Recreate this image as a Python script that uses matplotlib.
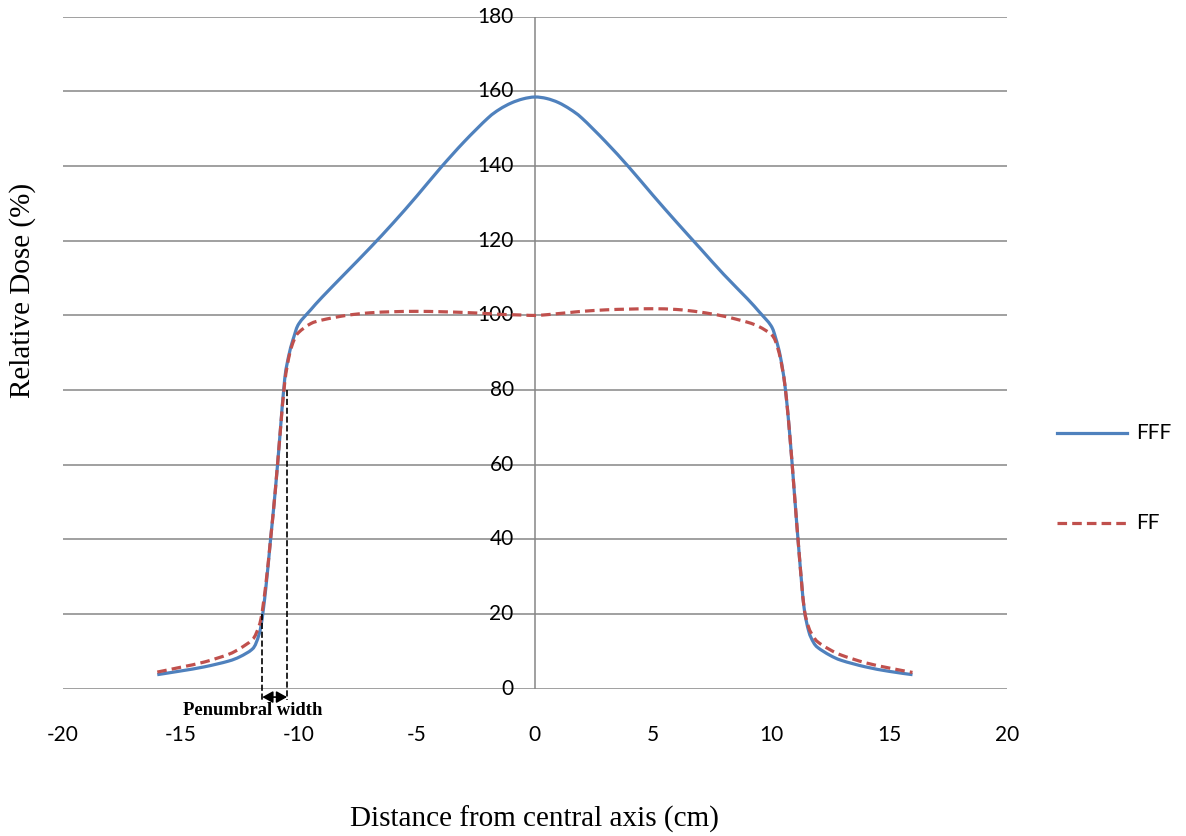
import numpy as np
import matplotlib.pyplot as plt
from matplotlib.lines import Line2D
from matplotlib.path import Path
from matplotlib.patches import PathPatch

# data
x = [-16, -15, -14, -13, -12.5, -12, -11.8, -11.6, -11.4, -11.2, -11, -10.8, -10.6,
     -10.4, -10.2, -10, -9.5, -9, -8, -7, -6, -5, -4, -3, -2, -1.5, -1, -0.5, 0,
     0.5, 1, 1.5, 2, 3, 4, 5, 6, 7, 8, 9, 9.5, 10, 10.2, 10.4, 10.6, 10.8, 11,
     11.2, 11.4, 11.6, 11.8, 12, 12.5, 13, 14, 15, 16]
fff = [3.8, 4.8, 5.9, 7.4, 8.6, 10.5, 12.5, 17, 27, 40, 53, 68, 83,
       90, 94.5, 97.8, 101.5, 105, 111.5, 118, 124.8, 132, 139.5, 146.5, 152.8, 155.2, 156.9, 158, 158.5,
       158.1, 157, 155.2, 152.8, 146.5, 139.6, 132.2, 125, 118, 111, 104.5, 101, 97.3, 94, 89, 81, 68, 52,
       36, 22, 15.5, 12.5, 11, 9, 7.6, 5.9, 4.7, 3.8]
ff = [4.5, 5.8, 7.2, 9.2, 10.8, 13, 15, 19, 28, 40, 53, 68, 82,
      89.5, 93.5, 95.5, 97.8, 98.8, 100, 100.7, 101, 101.1, 101, 100.8, 100.5, 100.3, 100.2, 100.1, 100,
      100.2, 100.5, 100.8, 101.1, 101.5, 101.7, 101.8, 101.6, 100.9, 99.8, 98.2, 97, 95, 93, 88.5, 81, 68, 52,
      36, 22, 16.5, 14, 12.5, 10.5, 9, 7, 5.6, 4.4]
xticks = [-20, -15, -10, -5, 0, 5, 10, 15, 20]
yticks = [0, 20, 40, 60, 80, 100, 120, 140, 160, 180]
labels = ['FFF', 'FF']
pen_left, pen_right = -11.55, -10.5

blue = '#4F81BD'
red = '#C0504D'
grid = '#868686'
dash = (0, (3, 1.6))


def smooth_path(xs, ys):
    # Excel-style smoothed line: Catmull-Rom segments as cubic Beziers
    p = np.column_stack([xs, ys]).astype(float)
    p = np.vstack([p[0], p, p[-1]])
    verts = [p[1]]
    codes = [Path.MOVETO]
    for i in range(1, len(p) - 2):
        c1 = p[i] + (p[i + 1] - p[i - 1]) / 6
        c2 = p[i + 1] - (p[i + 2] - p[i]) / 6
        verts += [c1, c2, p[i + 1]]
        codes += [Path.CURVE4] * 3
    return Path(verts, codes)


fig = plt.figure(figsize=(11.86, 8.36), dpi=100)
ax = fig.add_axes([0.053, 0.176, 0.796, 0.804])
ax.set_xlim(-20, 20)
ax.set_ylim(0, 180)

for s in ax.spines.values():
    s.set_visible(False)
for t in yticks:
    ax.axhline(t, color=grid, lw=1.1, zorder=1)
ax.axvline(0, color=grid, lw=1.1, zorder=1)

ax.add_patch(PathPatch(smooth_path(x, fff), fill=False, edgecolor=blue, lw=2.3, zorder=3))
ax.add_patch(PathPatch(smooth_path(x, ff), fill=False, edgecolor=red, lw=2.3, ls=dash, zorder=4))

# x ticks
ax.set_xticks(xticks)
ax.set_xticklabels([str(v) for v in xticks], fontsize=15, family='Lato')
ax.tick_params(axis='x', length=0, pad=26)
# y ticks drawn beside the central axis
ax.set_yticks([])
for t in yticks:
    ax.text(-0.9, t, str(t), ha='right', va='center', fontsize=15, family='Lato')

ax.set_xlabel('Distance from central axis (cm)', family='Liberation Serif', fontsize=21, labelpad=44)
fig.text(0.019, 0.653, 'Relative Dose (%)', rotation=90, ha='center', va='center',
         family='Liberation Serif', fontsize=21)

# penumbral width annotation
ax.plot([pen_left, pen_left], [20, -3], color='black', ls='--', lw=1.2, clip_on=False, zorder=5)
ax.plot([pen_right, pen_right], [80, -3], color='black', ls='--', lw=1.2, clip_on=False, zorder=5)
ax.annotate('', xy=(pen_left, -2.2), xytext=(pen_right, -2.2),
            arrowprops=dict(arrowstyle='<|-|>,head_length=0.45,head_width=0.25', color='black',
                            lw=1.2, mutation_scale=14, shrinkA=0, shrinkB=0),
            annotation_clip=False)
ax.text(-11.95, -5.8, 'Penumbral width', ha='center', va='center', fontsize=13.4,
        fontweight='bold', family='Liberation Serif')

# legend drawn at the reference position
for lab, col, ls, yy in zip(labels, [blue, red], ['-', dash], [0.482, 0.374]):
    fig.add_artist(Line2D([0.891, 0.950], [yy, yy], color=col, lw=2.3, ls=ls,
                          transform=fig.transFigure))
    fig.text(0.958, yy, lab, ha='left', va='center', fontsize=15, family='Lato')

fig.savefig('out.png', dpi=100)
